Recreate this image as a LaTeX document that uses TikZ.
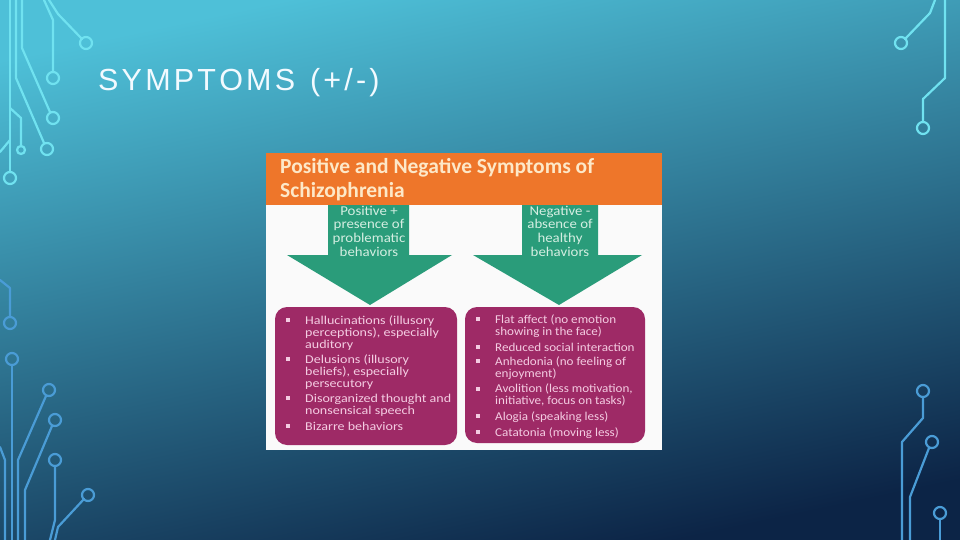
\documentclass[tikz,border=0pt]{standalone}
\usepackage{fontspec}
\setmainfont{Liberation Sans}
\newfontfamily\calib{Carlito}
\newfontfamily\calibw[FakeStretch=1.17]{Carlito}
\newfontfamily\calibr[FakeStretch=1.09]{Carlito}
\newfontfamily\caliba[FakeStretch=1.1]{Carlito}
\definecolor{bgtop}{RGB}{78,192,216}
\definecolor{bgmid}{RGB}{36,118,166}
\definecolor{bgbot}{RGB}{12,36,70}
\definecolor{circA}{RGB}{112,226,240}
\definecolor{circB}{RGB}{74,156,214}
\definecolor{hdrorange}{RGB}{238,118,42}
\definecolor{hdrtext}{RGB}{253,232,200}
\definecolor{arrgreen}{RGB}{42,156,122}
\definecolor{arrtext}{RGB}{212,238,226}
\definecolor{boxmag}{RGB}{158,42,102}
\definecolor{boxtext}{RGB}{244,204,226}
\definecolor{imgwhite}{RGB}{250,250,250}
\definecolor{titlecol}{RGB}{242,250,255}
\tikzset{
  wireA/.style={draw=circA,line width=2.2pt,line join=round,line cap=round},
  wireB/.style={draw=circB,line width=2.2pt,line join=round,line cap=round},
  hdr/.style={anchor=base west,inner sep=0pt,text height=15pt,text depth=4pt,text=hdrtext,font=\calib\bfseries\fontsize{21.5}{23}\selectfont},
  arrlbl/.style={anchor=base,inner sep=0pt,text height=9.5pt,text depth=3pt,text=arrtext,font=\caliba\fontsize{13.5}{14}\selectfont},
  bul/.style={anchor=base west,inner sep=0pt,text height=8pt,text depth=2.5pt,text=boxtext,font=\calibw\fontsize{12}{12}\selectfont},
  bulr/.style={bul,font=\calibr\fontsize{12}{12}\selectfont},
  bulmark/.style={fill=boxtext,minimum size=3.4pt,inner sep=0pt},
  panel/.style={fill=boxmag,rounded corners=12pt},
}
\def\ls{\kern3.2pt}
\begin{document}
\begin{tikzpicture}[x=1pt,y=-1pt]
\useasboundingbox (0,0) rectangle (960,540);
% background
\shade[top color=bgtop,middle color=bgmid,bottom color=bgbot,shading angle=12] (0,0) rectangle (960,540);

% circuits top-left
\draw[wireA] (10,0) -- (10,172);
\draw[wireA] (10,178) circle[radius=6];
\draw[wireA] (10,140) -- (0,152);
\draw[wireA] (10,108) -- (21,118) -- (21,146);
\draw[wireA] (21,150) circle[radius=4];
\draw[wireA] (16,0) -- (16,78) -- (44,143);
\draw[wireA] (47,149) circle[radius=6];
\draw[wireA] (22,0) -- (22,48) -- (50,112);
\draw[wireA] (53,118) circle[radius=6];
\draw[wireA] (44,0) -- (53,20) -- (53,72);
\draw[wireA] (53,78) circle[radius=6];
\draw[wireA] (49,0) -- (58,14) -- (82,39);
\draw[wireA] (86,43) circle[radius=6];
% circuits top-right
\draw[wireA] (935,0) -- (930,13) -- (905,39);
\draw[wireA] (901,43) circle[radius=6];
\draw[wireA] (945,0) -- (945,78) -- (923,99) -- (923,122);
\draw[wireA] (923,128) circle[radius=6];
% circuits left lower
\draw[wireB] (0,280) -- (10,288) -- (10,317);
\draw[wireB] (10,323) circle[radius=6];
\draw[wireB] (12,365) -- (12,540);
\draw[wireB] (12,359) circle[radius=6];
\draw[wireB] (46,396) -- (18,460) -- (18,540);
\draw[wireB] (49,390) circle[radius=6];
\draw[wireB] (52,426) -- (25,490) -- (25,540);
\draw[wireB] (55,420) circle[radius=6];
\draw[wireB] (55,466) -- (55,520) -- (50,540);
\draw[wireB] (55,460) circle[radius=6];
\draw[wireB] (84,499) -- (58,527) -- (55,540);
\draw[wireB] (88,495) circle[radius=6];
\draw[wireB] (0,447) -- (5,460) -- (5,540);
% circuits bottom-right
\draw[wireB] (923,397) -- (923,418) -- (902,442) -- (902,540);
\draw[wireB] (923,391) circle[radius=6];
\draw[wireB] (929,448) -- (910,497) -- (910,540);
\draw[wireB] (932,442) circle[radius=6];
\draw[wireB] (940,519) -- (940,540);
\draw[wireB] (940,513) circle[radius=6];

% title
\node[anchor=base west,inner sep=0pt,text=titlecol,font=\fontsize{30.5}{32}\selectfont] (title) at (98,91)
  {S\ls Y\ls M\ls P\ls T\ls O\ls M\ls S\ls\ \ls(\ls+\ls/\ls-\ls)};

% picture
\fill[imgwhite] (266,153) rectangle (662,450);
\fill[hdrorange] (266,153) rectangle (662,205);
\node[hdr] (h1) at (280,174) {Positive and Negative Symptoms of};
\node[hdr] (h2) at (280,197) {Schizophrenia};

% arrows
\fill[arrgreen] (328,205) -- (409,205) -- (409,255) -- (452,255) -- (370,305) -- (287,255) -- (328,255) -- cycle;
\fill[arrgreen] (522,205) -- (598,205) -- (598,255) -- (642,255) -- (559,305) -- (473,255) -- (522,255) -- cycle;
\node[arrlbl] (p1) at (369,215) {Positive +};
\node[arrlbl] (p2) at (369,228.5) {presence of};
\node[arrlbl] (p3) at (369,242.5) {problematic};
\node[arrlbl] (p4) at (369,256.5) {behaviors};
\node[arrlbl] (n1) at (560,215) {Negative -};
\node[arrlbl] (n2) at (560,228.5) {absence of};
\node[arrlbl] (n3) at (560,242.5) {healthy};
\node[arrlbl] (n4) at (560,256.5) {behaviors};

% panels
\fill[panel] (275,307) rectangle (457,445);
\fill[panel] (465,307) rectangle (645,443);

% left list
\foreach \t/\y [count=\i] in {{Hallucinations (illusory}/324,{perceptions), especially}/336,{auditory}/348,
  {Delusions (illusory}/363,{beliefs), especially}/375,{persecutory}/387,
  {Disorganized thought and}/402,{nonsensical speech}/414,{Bizarre behaviors}/430}
  \node[bul] (L\i) at (305,\y) {\t};
\foreach \y [count=\i] in {320,359,398,426}
  \node[bulmark] (LB\i) at (288,\y) {};

% right list
\foreach \t/\y [count=\i] in {{Flat affect (no emotion}/323,{showing in the face)}/335,{Reduced social interaction}/351,
  {Anhedonia (no feeling of}/365,{enjoyment)}/377,{Avolition (less motivation,}/392,
  {initiative, focus on tasks)}/404,{Alogia (speaking less)}/420,{Catatonia (moving less)}/436}
  \node[bulr] (R\i) at (495,\y) {\t};
\foreach \y [count=\i] in {319,347,361,389,416,432}
  \node[bulmark] (RB\i) at (478,\y) {};
\end{tikzpicture}
\end{document}
